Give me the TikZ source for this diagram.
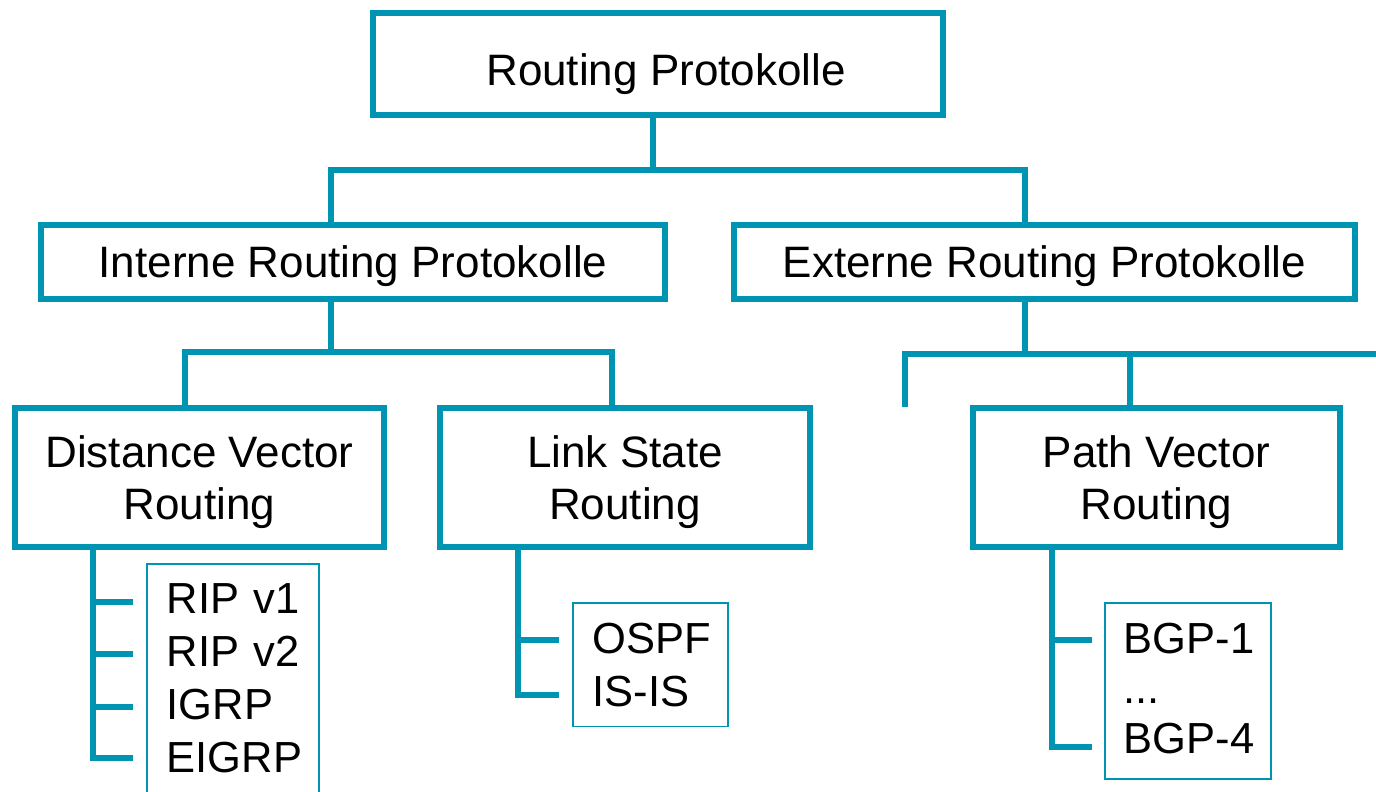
\documentclass[tikz,border=0pt]{standalone}
\usepackage{fontspec}
\setmainfont{Liberation Sans}
\definecolor{tealline}{RGB}{0,148,179}
\begin{document}
\begin{tikzpicture}[x=1pt,y=-1pt,
  bigbox/.style={draw=tealline,line width=6pt,inner sep=0pt,align=center,text depth=0pt,font=\fontsize{44}{52}\selectfont},
  listbox/.style={draw=tealline,line width=1.5pt,anchor=north west,align=left,inner xsep=20pt,inner ysep=20pt,font=\fontsize{43.5}{53}\selectfont},
  conn/.style={draw=tealline,line width=6pt,line join=miter}]
\useasboundingbox (0,0) rectangle (1376,792);
% main boxes
\node[draw=tealline,line width=6pt,inner sep=0pt,font=\fontsize{44}{52}\selectfont,text height=43.6pt,text depth=0pt,minimum width=570pt,minimum height=102pt] (top) at (658,64) {\hspace*{16pt}Routing Protokolle};
\node[bigbox,minimum width=624pt,minimum height=74pt] (int) at (353,262) {Interne Routing Protokolle};
\node[bigbox,minimum width=621pt,minimum height=74pt] (ext) at (1044.5,262) {Externe Routing Protokolle};
\node[bigbox,minimum width=369pt,minimum height=139pt] (dv) at (199.5,477.5) {Distance Vector\\Routing};
\node[bigbox,minimum width=370pt,minimum height=139pt] (ls) at (625,477.5) {Link State\\Routing};
\node[bigbox,minimum width=367pt,minimum height=139pt] (pv) at (1156.5,477.5) {Path Vector\\Routing};
% list boxes
\node[listbox,text width=132pt] (dvl) at (146,563) {\mbox{RIP v1}\\\mbox{RIP v2}\\IGRP\\EIGRP};
\node[listbox,text width=115pt] (lsl) at (572,602) {OSPF\\\mbox{IS-IS}};
\node[listbox,text width=128pt,inner xsep=19pt,font=\fontsize{43.5}{50}\selectfont] (pvl) at (1104,602) {\mbox{BGP-1}\\...\\\mbox{BGP-4}\rule[-6pt]{0pt}{6pt}};
% level 1 connectors
\coordinate (a) at (653,170);
\coordinate (al) at (331,170);
\coordinate (ar) at (1025,170);
\draw[conn] (top.south -| a) -- (a);
\draw[conn] (int.north -| al) -- (al) -- (ar) -- (ext.north -| ar);
% interne connectors
\coordinate (b) at (331,352);
\coordinate (bl) at (185,352);
\coordinate (br) at (612,352);
\draw[conn] (int.south -| b) -- (b);
\draw[conn] (dv.north -| bl) -- (bl) -- (br) -- (ls.north -| br);
% externe connectors
\coordinate (c) at (1025,354);
\coordinate (cl) at (905,354);
\coordinate (cs) at (905,407);
\coordinate (cr) at (1400,354);
\coordinate (cm) at (1130,354);
\draw[conn] (ext.south -| c) -- (c);
\draw[conn] (cs) -- (cl) -- (cr);
\draw[conn] (cm) -- (pv.north -| cm);
% distance vector list
\coordinate (dvr) at (93,758);
\coordinate (dt1) at (133,602);
\coordinate (dt2) at (133,654);
\coordinate (dt3) at (133,707);
\coordinate (dt4) at (133,758);
\draw[conn] (dv.south -| dvr) -- (dvr) -- (dt4);
\foreach \i in {1,2,3} {\draw[conn] (dt\i -| dvr) -- (dt\i);}
% link state list
\coordinate (lsr) at (518,695);
\coordinate (lt1) at (559,640);
\coordinate (lt2) at (559,695);
\draw[conn] (ls.south -| lsr) -- (lsr) -- (lt2);
\draw[conn] (lt1 -| lsr) -- (lt1);
% path vector list
\coordinate (pvr) at (1052,747);
\coordinate (pt1) at (1092,640);
\coordinate (pt2) at (1092,747);
\draw[conn] (pv.south -| pvr) -- (pvr) -- (pt2);
\draw[conn] (pt1 -| pvr) -- (pt1);
\end{tikzpicture}
\end{document}
